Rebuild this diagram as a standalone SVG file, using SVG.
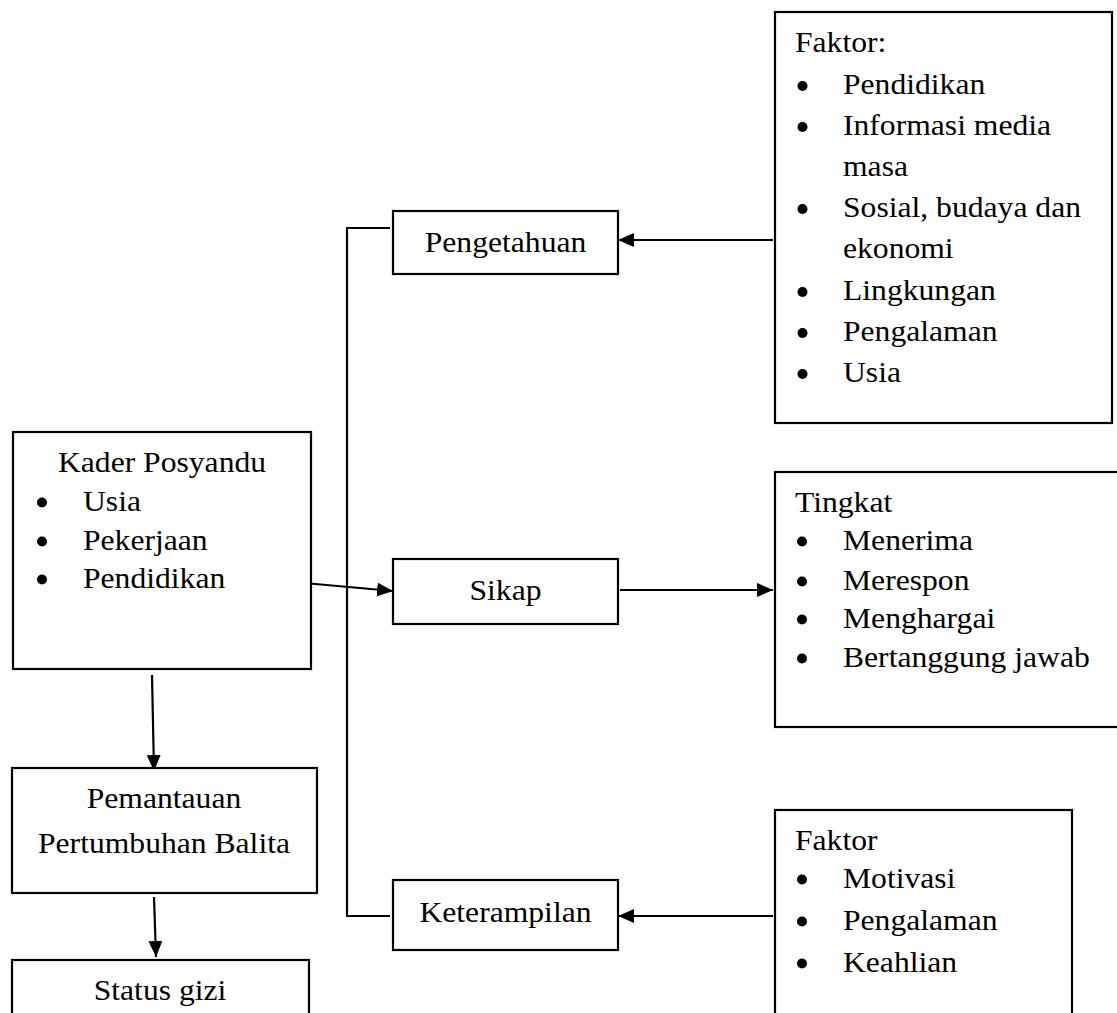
<svg xmlns="http://www.w3.org/2000/svg" width="1117" height="1013" viewBox="0 0 1117 1013">
<style>
.box{fill:#fff;stroke:#000;stroke-width:2.2}
.t{font-family:"Liberation Serif","Times New Roman",serif;font-size:28.5px;fill:#000}
.c{text-anchor:middle}
.b{fill:#000}
.ln{stroke:#000;stroke-width:2.2;fill:none}
</style>
<defs>
<marker id="ah" markerUnits="userSpaceOnUse" markerWidth="17" markerHeight="14" refX="16" refY="7" orient="auto">
<path d="M0,0 L16,7 L0,14 z" fill="#000"/>
</marker>
</defs>
<rect width="1117" height="1013" fill="#fff"/>

<g id="connectors">
<polyline class="ln" points="390,228 347,228 347,916 390,916"/>
<line class="ln" x1="773" y1="240" x2="618" y2="240" marker-end="url(#ah)"/>
<line class="ln" x1="293" y1="582" x2="393" y2="591" marker-end="url(#ah)"/>
<line class="ln" x1="620" y1="590" x2="773" y2="590" marker-end="url(#ah)"/>
<line class="ln" x1="773" y1="916" x2="618" y2="916" marker-end="url(#ah)"/>
<line class="ln" x1="152" y1="675" x2="154" y2="771" marker-end="url(#ah)"/>
<line class="ln" x1="154" y1="897" x2="156" y2="957" marker-end="url(#ah)"/>
</g>

<g id="pengetahuan">
<rect class="box" x="393" y="211" width="225" height="63"/>
<text class="t c" transform="translate(505.5,252) scale(1.11,1)">Pengetahuan</text>
</g>

<g id="sikap">
<rect class="box" x="393" y="559" width="225" height="65"/>
<text class="t c" transform="translate(505.5,600) scale(1.11,1)">Sikap</text>
</g>

<g id="keterampilan">
<rect class="box" x="393" y="880" width="225" height="70"/>
<text class="t c" transform="translate(505.5,922) scale(1.11,1)">Keterampilan</text>
</g>

<g id="kader">
<rect class="box" x="13" y="432" width="298" height="237"/>
<text class="t c" transform="translate(162,472) scale(1.11,1)">Kader Posyandu</text>
<circle class="b" cx="42" cy="502.5" r="5"/>
<text class="t" transform="translate(83,511) scale(1.11,1)">Usia</text>
<circle class="b" cx="42" cy="541.5" r="5"/>
<text class="t" transform="translate(83,550) scale(1.11,1)">Pekerjaan</text>
<circle class="b" cx="42" cy="579.5" r="5"/>
<text class="t" transform="translate(83,588) scale(1.11,1)">Pendidikan</text>
</g>

<g id="pemantauan">
<rect class="box" x="12" y="768" width="305" height="125"/>
<text class="t c" transform="translate(164,808) scale(1.11,1)">Pemantauan</text>
<text class="t c" transform="translate(164,853) scale(1.11,1)">Pertumbuhan Balita</text>
</g>

<g id="status-gizi">
<rect class="box" x="12" y="960" width="297" height="70"/>
<text class="t c" transform="translate(160,1000) scale(1.11,1)">Status gizi</text>
</g>

<g id="faktor-pengetahuan">
<rect class="box" x="775" y="12" width="337" height="411"/>
<text class="t" transform="translate(795,52) scale(1.11,1)">Faktor:</text>
<circle class="b" cx="802.5" cy="86" r="5"/>
<text class="t" transform="translate(843,94) scale(1.11,1)">Pendidikan</text>
<circle class="b" cx="802.5" cy="127" r="5"/>
<text class="t" transform="translate(843,135) scale(1.11,1)">Informasi media</text>
<text class="t" transform="translate(843,176) scale(1.11,1)">masa</text>
<circle class="b" cx="802.5" cy="209" r="5"/>
<text class="t" transform="translate(843,217) scale(1.11,1)">Sosial, budaya dan</text>
<text class="t" transform="translate(843,258) scale(1.11,1)">ekonomi</text>
<circle class="b" cx="802.5" cy="292" r="5"/>
<text class="t" transform="translate(843,300) scale(1.11,1)">Lingkungan</text>
<circle class="b" cx="802.5" cy="333" r="5"/>
<text class="t" transform="translate(843,341) scale(1.11,1)">Pengalaman</text>
<circle class="b" cx="802.5" cy="374" r="5"/>
<text class="t" transform="translate(843,382) scale(1.11,1)">Usia</text>
</g>

<g id="tingkat">
<rect class="box" x="775" y="472" width="350" height="255"/>
<text class="t" transform="translate(795,512) scale(1.11,1)">Tingkat</text>
<circle class="b" cx="802" cy="541.5" r="5"/>
<text class="t" transform="translate(843,550) scale(1.11,1)">Menerima</text>
<circle class="b" cx="802" cy="581.5" r="5"/>
<text class="t" transform="translate(843,590) scale(1.11,1)">Merespon</text>
<circle class="b" cx="802" cy="619.5" r="5"/>
<text class="t" transform="translate(843,628) scale(1.11,1)">Menghargai</text>
<circle class="b" cx="802" cy="658.5" r="5"/>
<text class="t" transform="translate(843,667) scale(1.11,1)">Bertanggung jawab</text>
</g>

<g id="faktor-keterampilan">
<rect class="box" x="775" y="810" width="297" height="220"/>
<text class="t" transform="translate(795,850) scale(1.11,1)">Faktor</text>
<circle class="b" cx="802" cy="879.5" r="5"/>
<text class="t" transform="translate(843,888) scale(1.11,1)">Motivasi</text>
<circle class="b" cx="802" cy="921.5" r="5"/>
<text class="t" transform="translate(843,930) scale(1.11,1)">Pengalaman</text>
<circle class="b" cx="802" cy="963.5" r="5"/>
<text class="t" transform="translate(843,972) scale(1.11,1)">Keahlian</text>
</g>
</svg>
